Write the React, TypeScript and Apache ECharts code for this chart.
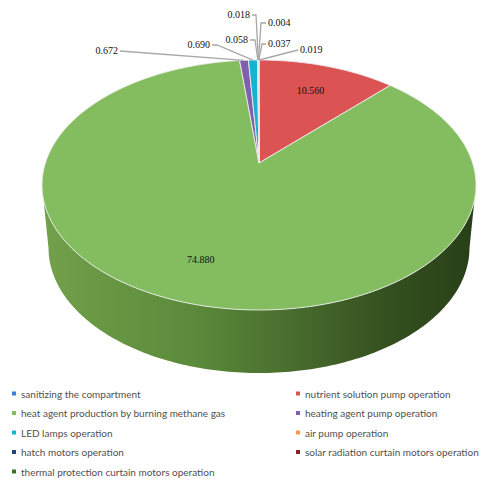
import React, { useEffect, useRef } from 'react';
import * as echarts from 'echarts';

// ---------- data ----------
const categories = [
  'sanitizing the compartment',
  'nutrient solution pump operation',
  'heat agent production by burning methane gas',
  'heating agent pump operation',
  'LED lamps operation',
  'air pump operation',
  'hatch motors operation',
  'solar radiation curtain motors operation',
  'thermal protection curtain motors operation',
];
const values = [0.019, 10.56, 74.88, 0.672, 0.69, 0.058, 0.018, 0.004, 0.037];

const leftLegend = [categories[0], categories[2], categories[4], categories[6], categories[8]];
const rightLegend = [categories[1], categories[3], categories[5], categories[7]];

// ---------- styles / layout ----------
const COLORS = ['#2f86d2', '#dc5353', '#84bd60', '#7f5fae', '#17b2d2', '#f59a4a', '#1f4577', '#8a2023', '#3f6e2b'];
const PIE = { cx: 259, cy: 163, a: 213.6, d: -92.44, g: 0.176, depth: 63, bottomScale: 0.97 };
type LabelLayout = { inside?: number; tx?: number; ty?: number; align?: 'left' | 'right'; elbow?: number };
const LABEL_LAYOUT: LabelLayout[] = [
  { tx: 300, ty: 49, align: 'left', elbow: 298 },
  { inside: 0.72 },
  { inside: 0.74 },
  { tx: 118, ty: 50, align: 'right', elbow: 120 },
  { tx: 210, ty: 44, align: 'right', elbow: 217 },
  { tx: 248, ty: 39, align: 'right', elbow: 255 },
  { tx: 250, ty: 14, align: 'right', elbow: 256 },
  { tx: 268, ty: 22, align: 'left', elbow: 261 },
  { tx: 268, ty: 43, align: 'left', elbow: 262 },
];
const LEGEND_TEXT = { fontFamily: 'Lato', fontSize: 10, color: '#505050', lineHeight: 13 };

function proj(theta: number, f: number, bottom = false): [number, number] {
  const u = f * Math.sin(theta);
  const v = f * Math.cos(theta);
  const w = 1 + PIE.g * v;
  const s = bottom ? PIE.bottomScale : 1;
  const x = PIE.cx + (s * PIE.a * u) / w;
  const y = (PIE.d * v + PIE.cy) / w + (bottom ? PIE.depth : 0);
  return [x, y];
}

function arc(t1: number, t2: number, bottom = false): [number, number][] {
  const pts: [number, number][] = [];
  const n = Math.max(2, Math.ceil(Math.abs(t2 - t1) / (Math.PI / 180)));
  for (let k = 0; k <= n; k++) {
    const t = t1 + ((t2 - t1) * k) / n;
    pts.push(proj(t, 1, bottom));
  }
  return pts;
}

export default function App() {
  const ref = useRef<HTMLDivElement>(null);
  useEffect(() => {
    if (!ref.current) return;
    const chart = echarts.init(ref.current, undefined, { renderer: 'svg' });
    const total = values.reduce((s, v) => s + v, 0);
    const starts: number[] = [];
    let acc = 0;
    values.forEach((v) => {
      starts.push((acc / total) * Math.PI * 2);
      acc += v;
    });
    const silL = Math.acos(-PIE.g);
    const silR = Math.PI * 2 - silL;
    const sideGrad = new echarts.graphic.LinearGradient(
      45, 0, 476, 0,
      [
        { offset: 0, color: '#72a04a' },
        { offset: 0.35, color: '#5a8a3a' },
        { offset: 0.6, color: '#46692c' },
        { offset: 0.8, color: '#34501f' },
        { offset: 1, color: '#283f17' },
      ],
      true
    );

    const legendBase = {
      orient: 'vertical',
      top: 387,
      icon: 'rect',
      itemWidth: 4,
      itemHeight: 4,
      itemGap: 6.5,
      selectedMode: false,
      padding: 0,
      textStyle: LEGEND_TEXT,
    };

    const option: any = {
      animation: false,
      backgroundColor: '#ffffff',
      color: COLORS,
      legend: [
        { ...legendBase, data: leftLegend, left: 12 },
        { ...legendBase, data: rightLegend, left: 296 },
      ],
      series: [
        {
          type: 'pie',
          name: 'legendProvider',
          center: [-100, -100],
          radius: 1,
          silent: true,
          label: { show: false },
          labelLine: { show: false },
          data: categories.map((c, i) => ({ name: c, value: values[i], itemStyle: { color: COLORS[i] } })),
        },
        {
          type: 'custom',
          name: 'pie3d',
          coordinateSystem: 'none',
          silent: true,
          data: values.map((v, i) => [i, v]),
          renderItem: (params: any) => {
            const i = params.dataIndex;
            const t1 = starts[i];
            const t2 = starts[i] + (values[i] / total) * Math.PI * 2;
            const children: any[] = [];
            const lo = Math.max(t1, silL);
            const hi = Math.min(t2, silR);
            if (hi > lo) {
              const pts = arc(lo, hi).concat(arc(hi, lo, true));
              children.push({ type: 'polygon', shape: { points: pts }, style: { fill: sideGrad, stroke: null }, z2: 1 });
            }
            const topPts: [number, number][] = [[PIE.cx, PIE.cy] as [number, number]].concat(arc(t1, t2));
            children.push({
              type: 'polygon',
              shape: { points: topPts },
              style: { fill: COLORS[i], stroke: '#ececec', lineWidth: 0.9, lineJoin: 'round' },
              z2: 2,
            });
            const lay = LABEL_LAYOUT[i];
            const mid = (t1 + t2) / 2;
            const txt = values[i].toFixed(3);
            if (lay.inside) {
              const [lx, ly] = proj(mid, lay.inside);
              children.push({
                type: 'text',
                x: lx,
                y: ly,
                style: { text: txt, fill: '#111', font: '10px "Liberation Serif"', align: 'center', verticalAlign: 'middle' },
                z2: 10,
              });
            } else {
              const [ex, ey] = proj(mid, 1);
              const endX = lay.align === 'right' ? lay.tx! + 2 : lay.tx! - 2;
              children.push({
                type: 'polyline',
                shape: { points: [[ex, ey], [lay.elbow!, lay.ty! + 1], [endX, lay.ty! + 1]] },
                style: { stroke: '#a8a8a8', lineWidth: 1.3, fill: null },
                z2: 9,
              });
              children.push({
                type: 'text',
                x: lay.tx,
                y: lay.ty,
                style: { text: txt, fill: '#111', font: '10px "Liberation Serif"', align: lay.align, verticalAlign: 'middle' },
                z2: 10,
              });
            }
            return { type: 'group', children };
          },
        },
      ],
    };
    chart.setOption(option);
    return () => chart.dispose();
  }, []);
  return <div ref={ref} style={{ position: 'fixed', left: 0, top: 0, width: 484, height: 483 }} />;
}
